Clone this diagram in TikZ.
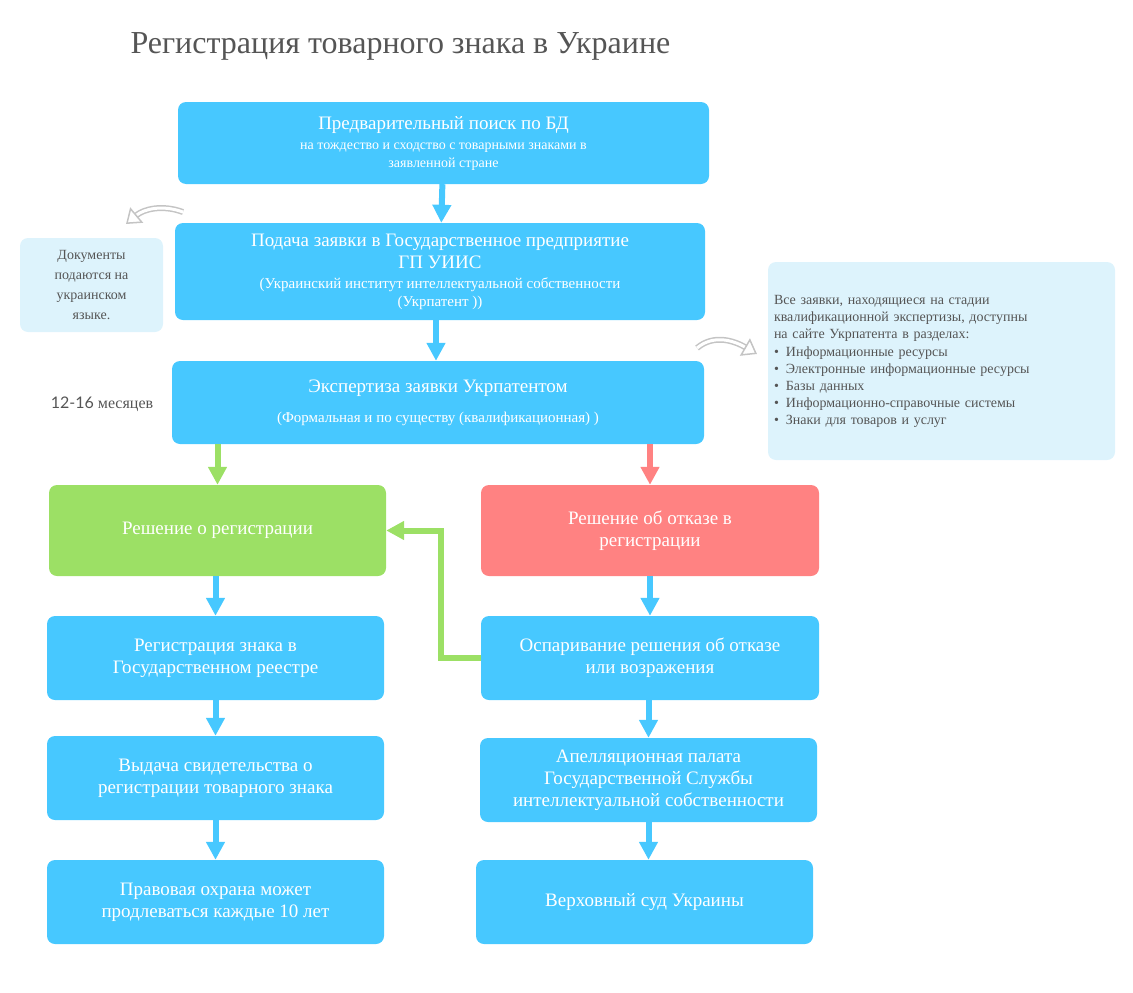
\documentclass[tikz,border=0pt]{standalone}
\usepackage{fontspec}
\setmainfont{Liberation Serif}
\newfontfamily\numfont{Lato}
\usetikzlibrary{arrows.meta, positioning}
\definecolor{stepblue}{HTML}{47C8FF}
\definecolor{stepgreen}{HTML}{9CE065}
\definecolor{stepred}{HTML}{FF8282}
\definecolor{notebg}{HTML}{DDF3FC}
\definecolor{notetext}{HTML}{555555}
\definecolor{hintgray}{HTML}{C4C4C4}

\begin{document}
\begin{tikzpicture}[
    x=1pt, y=-1pt,
    box/.style={rectangle, rounded corners=8pt, fill=stepblue, text=white, align=center, font=\fontsize{19}{22}\selectfont, inner sep=2pt},
    note/.style={rectangle, rounded corners=8pt, fill=notebg, text=notetext, font=\fontsize{14}{20}\selectfont},
    arrow/.style={-{Triangle[length=18pt, width=18pt]}, line width=6pt, stepblue},
    hint/.style={-{Triangle[open, length=14pt, width=20pt]}, hintgray, double=white, double distance=3pt, line width=1.5pt}
]
\useasboundingbox (0,0) rectangle (1133,993);

% =====================
% Title
% =====================
\node[anchor=west, text=notetext, font=\fontsize{32}{36}\selectfont] (title) at (127,46) {Регистрация товарного знака в Украине};

% =====================
% Top column
% =====================
\node[box, minimum width=531pt, minimum height=82pt] (search) at (443.5,143) {Предварительный поиск по БД\\[-2pt]{\fontsize{14}{20}\selectfont на тождество и сходство с товарными знаками в}\\[-4pt]{\fontsize{14}{20}\selectfont заявленной стране}};
\node[box, minimum width=530pt, minimum height=97pt] (filing) at (440,271.5) {Подача заявки в Государственное предприятие\\ГП УИИС\\[-2pt]{\fontsize{15}{19}\selectfont (Украинский институт интеллектуальной собственности}\\[-4pt]{\fontsize{15}{19}\selectfont (Укрпатент ))}};
\node[box, minimum width=532pt, minimum height=83pt] (exam) at (438,402.5) {Экспертиза заявки Укрпатентом\\[8pt]{\fontsize{15}{19}\selectfont (Формальная и по существу (квалификационная) )}};
\node[anchor=center, text=notetext, font=\fontsize{16}{20}\selectfont] (term) at (102,404) {{\numfont 12-16} месяцев};

% =====================
% Notes
% =====================
\node[note, align=center, minimum width=143pt, minimum height=94pt] (langnote) at (91.5,285) {Документы\\подаются на\\украинском\\языке.};
\node[note, align=left, minimum width=347pt, minimum height=198pt, text width=335pt] (basenote) at (941.5,361) {Все заявки, находящиеся на стадии\\[-3pt]квалификационной экспертизы, доступны\\[-3pt]на сайте Укрпатента в разделах:\\[-2pt]
\textbullet\enspace Информационные ресурсы\\[-3pt]
\textbullet\enspace Электронные информационные ресурсы\\[-3pt]
\textbullet\enspace Базы данных\\[-3pt]
\textbullet\enspace Информационно-справочные системы\\[-3pt]
\textbullet\enspace Знаки для товаров и услуг};

% =====================
% Left column
% =====================
\node[box, fill=stepgreen, minimum width=337pt, minimum height=91pt] (accept) at (217.5,530.5) {Решение о регистрации};
\node[box, minimum width=337pt, minimum height=84pt] (register) at (215.5,658) {Регистрация знака в\\Государственном реестре};
\node[box, minimum width=337pt, minimum height=84pt] (certificate) at (215.5,778) {Выдача свидетельства о\\регистрации товарного знака};
\node[box, minimum width=337pt, minimum height=84pt] (renewal) at (215.5,902) {Правовая охрана может\\продлеваться каждые 10 лет};

% =====================
% Right column
% =====================
\node[box, fill=stepred, minimum width=338pt, minimum height=91pt] (refuse) at (650,530.5) {Решение об отказе в\\регистрации};
\node[box, minimum width=338pt, minimum height=84pt] (appeal) at (650,658) {Оспаривание решения об отказе\\или возражения};
\node[box, minimum width=337pt, minimum height=84pt] (chamber) at (648.5,780) {Апелляционная палата\\Государственной Службы\\интеллектуальной собственности};
\node[box, minimum width=337pt, minimum height=84pt] (court) at (644.5,902) {Верховный суд Украины};

% =====================
% Arrows
% =====================
\draw[arrow] (search) -- (filing);
\draw[arrow] (filing.south -| exam.north) ++(-2,0) coordinate (f1) -- (f1 |- exam.north);
\draw[arrow, stepgreen] (exam.south -| accept.north) -- (accept);
\draw[arrow, stepred] (exam.south -| refuse.north) -- (refuse);
\draw[arrow] (accept.south -| register.north) -- (register);
\draw[arrow] (register) -- (certificate);
\draw[arrow] (certificate) -- (renewal);
\draw[arrow] (refuse) -- (appeal);
\draw[arrow] (appeal.south -| chamber.north) -- (chamber);
\draw[arrow] (chamber.south -| court.north) ++(4,0) coordinate (c1) -- (c1 |- court.north);
\coordinate (bend) at (441,658);
\draw[arrow, stepgreen] (appeal.west) -- (bend) |- (accept.east);

% hint arrows
\coordinate (h1a) at (183,212);
\coordinate (h1b) at (126,224);
\draw[hint] (h1a) to[out=160, in=40] (h1b);
\coordinate (h2a) at (697,348);
\coordinate (h2b) at (757,354);
\draw[hint] (h2a) to[out=40, in=150] (h2b);

\end{tikzpicture}
\end{document}
